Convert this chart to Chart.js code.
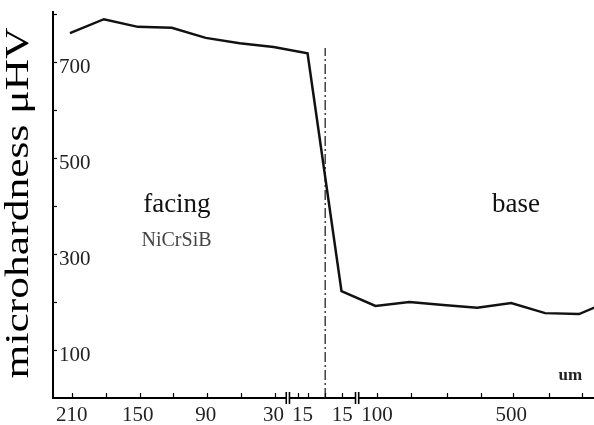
<!DOCTYPE html>
<html><head><meta charset="utf-8">
<script src="https://cdn.jsdelivr.net/npm/chart.js@4/dist/chart.umd.min.js"></script>
<style>html,body{margin:0;padding:0;background:#fff}canvas{display:block}</style>
</head><body>
<canvas id="c" width="594" height="425"></canvas>
<script>
// measurement points: equally spaced along the broken distance axis
const pointPos = [0,1,2,3,4,5,6,7,8,9,10,11,12,13,14,15,16];
const hardness = [761,790,774,772,751,740,732,719,223,192,200,194,188,198,177,175,205];

// x-axis (distance, um) labels and tick marks, in axis units
const xLabelPos = [0.05,2,4,6,6.85,8.02,9.05,13];
const xLabels   = ['210','150','90','30','15','15','100','500'];
const xMarkPos  = [0.05,1.05,2.05,3.05,4.05,5.05,6.05,6.72,7.01,7.52,8.02,9.05,10.05,11.1,12.1,13.05,14.1,15.1];
const xBreakPos = [6.42,8.46];
const interfacePos = 7.52;
const interfaceTop = 730;

// y-axis
const yLabelVals = [100,300,500,700];
const yMarkVals  = [100,200,300,400,500,600,700,800];
const yTitle = 'microhardness μHV';

// text notes placed in data coordinates
const noteText = ['facing','NiCrSiB','base','um'];
const noteX    = [3.15, 3.14, 13.14, 14.74];
const noteY    = [388, 327, 388, 38];

const serif = '"Liberation Serif", "Times New Roman", serif';
const noteFont = ['27px '+serif, '20px '+serif, '27px '+serif, 'bold 17px '+serif];
const noteColor = ['#111','#444','#111','#222'];

const decor = {
  id:'decor',
  afterDatasetsDraw(chart){
    const ctx = chart.ctx, xs = chart.scales.x, ys = chart.scales.y;
    const ca = chart.chartArea;
    ctx.save();
    ctx.strokeStyle = '#000';
    ctx.lineWidth = 1.2;
    // x tick marks (inward)
    xMarkPos.forEach(p=>{
      const px = Math.round(xs.getPixelForValue(p))+0.5;
      ctx.beginPath(); ctx.moveTo(px, ca.bottom); ctx.lineTo(px, ca.bottom-5); ctx.stroke();
    });
    // y tick marks (inward)
    yMarkVals.forEach(v=>{
      const py = Math.round(ys.getPixelForValue(v))+0.5;
      ctx.beginPath(); ctx.moveTo(ca.left, py); ctx.lineTo(ca.left+4, py); ctx.stroke();
    });
    // axis breaks
    ctx.lineWidth = 1.6;
    xBreakPos.forEach(p=>{
      const px = xs.getPixelForValue(p);
      ctx.fillStyle = '#fff';
      ctx.fillRect(px-1.5, ca.bottom-6, 3, 12);
      ctx.beginPath();
      ctx.moveTo(px-1.6, ca.bottom-6); ctx.lineTo(px-1.6, ca.bottom+6);
      ctx.moveTo(px+1.6, ca.bottom-6); ctx.lineTo(px+1.6, ca.bottom+6);
      ctx.stroke();
    });
    // notes
    noteText.forEach((t,i)=>{
      ctx.font = noteFont[i];
      ctx.fillStyle = noteColor[i];
      ctx.textAlign = 'center';
      ctx.textBaseline = i===1 ? 'middle' : 'alphabetic';
      ctx.fillText(t, xs.getPixelForValue(noteX[i]), ys.getPixelForValue(noteY[i]));
    });
    // y-axis title (stretched along its length like the scanned original)
    ctx.save();
    ctx.translate(19.5, (ca.top+ca.bottom)/2 - 2);
    ctx.rotate(-Math.PI/2);
    ctx.scale(1.28, 1);
    ctx.font = '34px '+serif;
    ctx.fillStyle = '#000';
    ctx.textAlign = 'center';
    ctx.textBaseline = 'middle';
    ctx.fillText(yTitle, 0, 0);
    ctx.restore();
    ctx.restore();
  }
};

new Chart(document.getElementById('c'), {
  type:'line',
  data:{
    datasets:[
      {
        data: pointPos.map((p,i)=>({x:p, y:hardness[i]})),
        borderColor:'#111', borderWidth:2.5, pointRadius:0, tension:0, fill:false
      },
      {
        data:[{x:interfacePos,y:0},{x:interfacePos,y:interfaceTop}],
        borderColor:'#333', borderWidth:1.4, borderDash:[10,3,2,3], pointRadius:0, fill:false
      }
    ]
  },
  options:{
    responsive:false, animation:false,
    layout:{padding:{top:12,right:0,bottom:0,left:0}},
    plugins:{legend:{display:false}, tooltip:{enabled:false}},
    scales:{
      x:{
        type:'linear', min:-0.5, max:15.44,
        border:{display:true, color:'#000', width:2},
        grid:{display:true, drawOnChartArea:false, drawTicks:false, color:'rgba(0,0,0,0)'},
        ticks:{autoSkip:false, maxRotation:0, minRotation:0, padding:5,
               font:{family:serif, size:21}, color:'#222',
               callback:(v,i)=>xLabels[i]},
        afterBuildTicks:s=>{ s.ticks = xLabelPos.map(v=>({value:v})); },
        afterFit:s=>{ s.height = 27; s.paddingLeft = 0; s.paddingRight = 0; }
      },
      y:{
        type:'linear', min:0, max:805, position:'left',
        border:{display:true, color:'#000', width:2},
        grid:{display:true, drawOnChartArea:false, drawTicks:false, color:'rgba(0,0,0,0)'},
        ticks:{mirror:true, padding:6, labelOffset:5, font:{family:serif, size:21}, color:'#222'},
        afterBuildTicks:s=>{ s.ticks = yLabelVals.map(v=>({value:v})); },
        afterFit:s=>{ s.width = 53; s.paddingTop = 0; s.paddingBottom = 0; }
      }
    }
  },
  plugins:[decor]
});
</script>
</body></html>
